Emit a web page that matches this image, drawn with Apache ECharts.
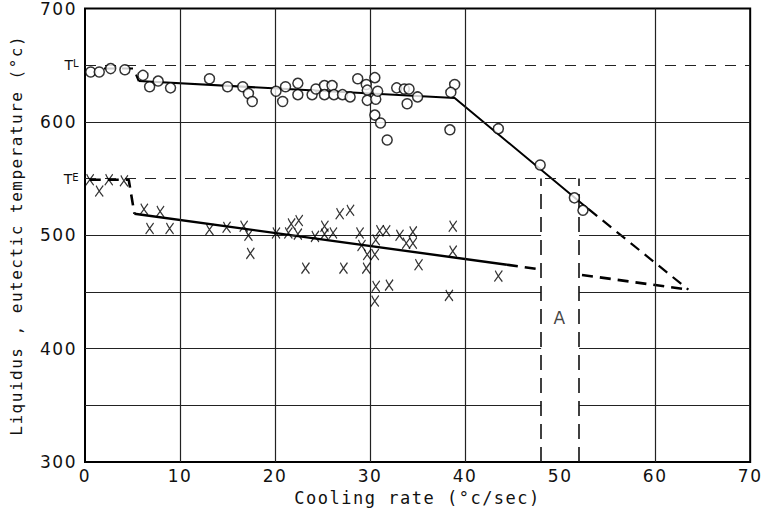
<!DOCTYPE html>
<html>
<head>
<meta charset="utf-8">
<script src="https://cdn.jsdelivr.net/npm/echarts@6/dist/echarts.min.js"></script>
<style>
  html, body { margin: 0; padding: 0; background: #fff; }
  #chart { width: 764px; height: 515px; letter-spacing: 1.5px; }
</style>
</head>
<body>
<div id="chart"></div>
<script>
// liquidus temperature readings (open circles)
var liquidus = [
  [0.6, 644], [1.5, 644], [2.7, 647], [4.2, 646], [6.1, 641], [6.8, 631], [7.7, 636], [9.0, 630],
  [13.1, 638], [15.0, 631], [16.6, 631], [17.2, 625], [17.6, 618],
  [20.1, 627], [20.8, 618], [21.1, 631], [22.4, 634], [22.4, 624], [23.9, 624], [24.3, 629],
  [25.2, 632], [25.2, 624], [26.0, 632], [26.2, 624], [27.1, 624], [27.9, 622], [28.7, 638],
  [29.6, 633], [29.7, 628], [30.5, 639], [29.7, 619], [30.6, 620], [30.8, 627], [30.5, 606],
  [31.1, 599], [31.8, 584], [32.8, 630], [33.6, 629], [34.1, 629], [33.9, 616], [35.0, 622],
  [38.9, 633], [38.5, 626], [38.4, 593], [43.5, 594], [47.9, 562], [51.5, 533], [52.4, 522]
];
// eutectic temperature readings (crosses)
var eutectic = [
  [0.5, 549], [1.5, 539], [2.5, 549], [4.1, 548], [6.2, 523], [7.9, 521], [6.8, 506], [8.9, 506],
  [13.1, 505], [14.9, 507], [16.7, 508], [17.2, 500], [17.4, 484],
  [20.1, 502], [21.4, 502], [22.4, 501], [21.7, 510], [22.5, 513], [24.2, 499], [25.2, 508],
  [25.2, 501], [26.1, 502], [26.8, 519], [27.9, 522], [28.9, 502], [29.1, 491], [29.7, 483],
  [30.5, 483], [29.6, 471], [30.6, 496], [31.0, 504], [31.7, 504], [33.1, 500], [33.8, 493],
  [34.5, 503], [34.5, 493], [23.2, 471], [27.2, 471], [35.1, 474], [38.7, 508], [38.7, 486],
  [43.5, 464], [30.6, 455], [32.0, 456], [30.5, 442], [38.3, 447]
];
// fitted lines
var liqDashStart = [[2, 647], [5.1, 647], [5.65, 636]];
var liqSolid = [[5.65, 636], [38.9, 621], [53, 523]];
var liqDashEnd = [[53, 523], [63.5, 452]];
var eutDashStart = [[0.5, 549], [4.6, 549], [5.2, 519]];
var eutSolid = [[5.2, 519], [44.4, 474]];
var eutDashEnd = [[44.4, 474], [47.8, 470]];
var eutDashRight = [[52.3, 465], [63.5, 452]];
// reference levels and band A
var tL = 650;
var tE = 550;
var bandLeft = 48;
var bandRight = 52;
var labelA = [[50, 427]];
var gridX = [10, 20, 30, 40, 60];
var gridYBroken = [350, 400, 450, 500];
var gridYFull = [600];

var solidGrid = [];
gridX.forEach(function (x) {
  solidGrid.push([{ coord: [x, 300] }, { coord: [x, 700] }]);
});
gridYBroken.forEach(function (y) {
  solidGrid.push([{ coord: [0, y] }, { coord: [bandLeft, y] }]);
  solidGrid.push([{ coord: [bandRight, y] }, { coord: [70, y] }]);
});
gridYFull.forEach(function (y) {
  solidGrid.push([{ coord: [0, y] }, { coord: [70, y] }]);
});
var dashGrid = [tL, tE].map(function (y) {
  return [{ coord: [0, y] }, { coord: [70, y] }];
});
var bandLines = [bandLeft, bandRight].map(function (x) {
  return [{ coord: [x, 300] }, { coord: [x, tE] }];
});

var font = 'DejaVu Sans';
var nameFont = 'DejaVu Sans Mono';
var chart = echarts.init(document.getElementById('chart'), null, { renderer: 'svg' });

function lineSeries(data, dashed, width) {
  return {
    type: 'line',
    data: data,
    showSymbol: false,
    symbol: 'none',
    silent: true,
    z: 3,
    lineStyle: { color: '#000', width: width, type: dashed ? [11, 7] : 'solid' }
  };
}

chart.setOption({
  animation: false,
  backgroundColor: '#fff',
  textStyle: { fontFamily: font, color: '#111' },
  grid: {
    left: 83, right: 12, top: 7, bottom: 53,
    show: true, borderColor: '#000', borderWidth: 2, backgroundColor: '#fff'
  },
  xAxis: {
    type: 'value', min: 0, max: 70, interval: 10,
    axisLine: { show: false }, axisTick: { show: false }, splitLine: { show: false },
    axisLabel: { fontSize: 17, margin: 5, color: '#111' },
    name: 'Cooling rate (°c/sec)', nameLocation: 'middle', nameGap: 27,
    nameTextStyle: { fontSize: 17, color: '#111', fontFamily: nameFont }
  },
  yAxis: {
    type: 'value', min: 300, max: 700, interval: 50,
    axisLine: { show: false }, axisTick: { show: false }, splitLine: { show: false },
    axisLabel: {
      fontSize: 17, margin: 5, color: '#111',
      formatter: function (v) {
        if (v === tL) return '{t|T}{s|L}';
        if (v === tE) return '{t|T}{s|E}';
        return v % 100 === 0 ? '{n|' + v + '}' : '';
      },
      rich: {
        n: { fontSize: 17, color: '#111', padding: [0, 3, 0, 0] },
        t: { fontSize: 14, color: '#111' },
        s: { fontSize: 10, color: '#111', padding: [0, 0, 3, 0] }
      }
    },
    name: 'Liquidus , eutectic temperature (°c)', nameLocation: 'middle', nameGap: 61,
    nameTextStyle: { fontSize: 16, color: '#111', fontFamily: nameFont }
  },
  series: [
    {
      type: 'scatter', data: [], silent: true, z: 1,
      markLine: {
        silent: true, symbol: ['none', 'none'], label: { show: false },
        lineStyle: { color: '#222', width: 1.2, type: 'solid' },
        data: solidGrid
      }
    },
    {
      type: 'scatter', data: [], silent: true, z: 1,
      markLine: {
        silent: true, symbol: ['none', 'none'], label: { show: false },
        lineStyle: { color: '#222', width: 1.2, type: [11, 9] },
        data: dashGrid
      }
    },
    {
      type: 'scatter', data: [], silent: true, z: 1,
      markLine: {
        silent: true, symbol: ['none', 'none'], label: { show: false },
        lineStyle: { color: '#111', width: 1.6, type: [15, 8] },
        data: bandLines
      }
    },
    lineSeries(liqDashStart, true, 2),
    lineSeries(liqSolid, false, 2),
    lineSeries(liqDashEnd, true, 2.2),
    lineSeries(eutDashStart, true, 2.6),
    lineSeries(eutSolid, false, 2.4),
    lineSeries(eutDashEnd, true, 2.6),
    lineSeries(eutDashRight, true, 2.6),
    {
      type: 'scatter', data: liquidus, symbol: 'circle', symbolSize: 10, z: 5,
      itemStyle: { color: '#fff', borderColor: '#000', borderWidth: 1.5 }
    },
    {
      type: 'scatter', data: eutectic, z: 5,
      symbol: 'path://M1,0 C3,5 6,9 9,13 M9,0 L0,13', symbolSize: [8, 11],
      itemStyle: { color: 'rgba(0,0,0,0)', borderColor: '#000', borderWidth: 1.3 }
    },
    {
      type: 'scatter', data: labelA, symbolSize: 0, silent: true, z: 6,
      label: { show: true, position: 'inside', formatter: 'A', fontSize: 17, color: '#111' }
    }
  ]
});
</script>
</body>
</html>
